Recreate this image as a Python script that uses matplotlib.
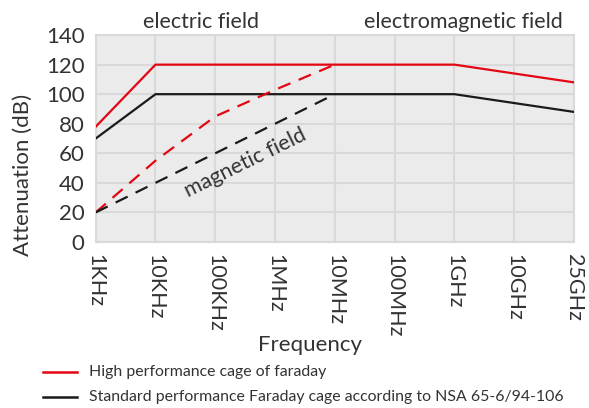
import matplotlib
matplotlib.use("Agg")
import matplotlib.pyplot as plt
from matplotlib.lines import Line2D

categories = ["1KHz", "10KHz", "100KHz", "1MHz", "10MHz", "100MHz", "1GHz", "10GHz", "25GHz"]
high_perf = [78, 120, 120, 120, 120, 120, 120, 114, 108]
standard = [70, 100, 100, 100, 100, 100, 100, 94, 88]
high_magnetic = [20, 55, 85, 103, 120]
std_magnetic = [20, 40, 60, 80, 100]
yticks = [0, 20, 40, 60, 80, 100, 120, 140]
legend_labels = ["High performance cage of faraday",
                 "Standard performance Faraday cage according to NSA 65-6/94-106"]

plt.rcParams['font.family'] = ['Lato', 'DejaVu Sans']
txt = '#333333'
red = '#e30613'
black = '#1a1a1a'

fig = plt.figure(figsize=(5.89, 4.08), dpi=100)
ax = fig.add_axes([0.1625, 0.407, 0.812, 0.507])
ax.set_facecolor('#ebebeb')
x = list(range(len(categories)))

ax.plot(x, high_perf, color=red, lw=1.6, zorder=3)
ax.plot(x, standard, color=black, lw=1.6, zorder=3)
ax.plot(x[:len(high_magnetic)], high_magnetic, color=red, lw=1.6, dashes=(6, 4), zorder=3)
ax.plot(x[:len(std_magnetic)], std_magnetic, color=black, lw=1.6, dashes=(6, 4), zorder=3)

ax.set_xlim(0, len(categories) - 1)
ax.set_ylim(0, 140)
ax.set_xticks(x)
ax.set_xticklabels(categories, rotation=-90, fontsize=15.5, color=txt)
ax.set_yticks(yticks)
ax.set_yticklabels([str(v) for v in yticks], fontsize=16, color=txt)
ax.tick_params(axis='y', length=0, pad=8)
ax.tick_params(axis='x', length=0, pad=9)
ax.grid(True, color='#d9d9d9', lw=1.5)
ax.set_axisbelow(True)
for s in ax.spines.values():
    s.set_color('#d9d9d9')
    s.set_linewidth(1.5)

fig.text(23/589, 1 - 175/408, "Attenuation (dB)", ha='center', va='center', rotation=90,
         fontsize=16, color=txt)
fig.text(310/589, 1 - 345/408, "Frequency", ha='center', va='center', fontsize=16, color=txt)

fig.text(201/589, 1 - 22/408, "electric field", ha='center', va='center', fontsize=15.5, color=txt)
fig.text(463/589, 1 - 22/408, "electromagnetic field", ha='center', va='center', fontsize=15.5, color=txt)
fig.text(245/589, 1 - 163/408, "magnetic field", ha='center', va='center', fontsize=15.5,
         color=txt, rotation=26)

# legend drawn in figure coordinates
for i, (lab, col) in enumerate(zip(legend_labels, [red, black])):
    yy = 1 - (372 + 25 * i) / 408
    fig.add_artist(Line2D([43/589, 77/589], [yy, yy], color=col, lw=1.8,
                          transform=fig.transFigure))
    fig.text(89/589, yy, lab, ha='left', va='center', fontsize=11.4, color=txt)

fig.savefig("out.png", dpi=100)
